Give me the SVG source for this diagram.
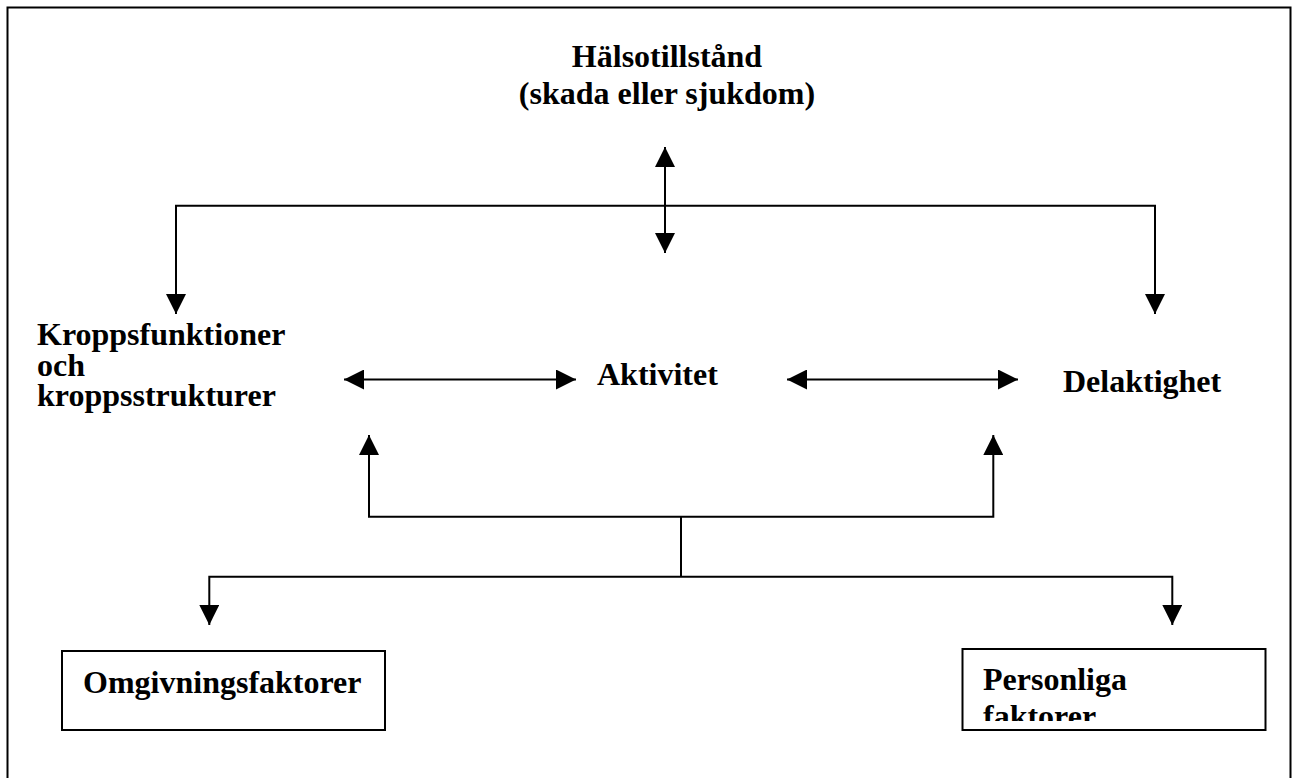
<svg xmlns="http://www.w3.org/2000/svg" width="1299" height="778" viewBox="0 0 1299 778">
<style>
.t{font-family:"Liberation Serif","Times New Roman",serif;font-weight:bold;font-size:32px;fill:#000}
.c{fill:none;stroke:#000;stroke-width:2}
.box{fill:#fff;stroke:#000;stroke-width:2}
</style>
<defs>
<marker id="ah" markerUnits="userSpaceOnUse" markerWidth="20" markerHeight="20" refX="20" refY="10" orient="auto-start-reverse" viewBox="0 0 20 20">
<path d="M0,0 L20,10 L0,20 z" fill="#000"/>
</marker>
<clipPath id="pclip"><rect x="963" y="650" width="302" height="71"/></clipPath>
</defs>
<rect x="7.5" y="7.5" width="1283" height="800" fill="#fff" stroke="#000" stroke-width="2"/>
<g id="connectors">
<path class="c" d="M665,147 V253" marker-start="url(#ah)" marker-end="url(#ah)"/>
<path class="c" d="M176,314 V205.7 H1155 V314" marker-start="url(#ah)" marker-end="url(#ah)"/>
<path class="c" d="M344,379.5 H576" marker-start="url(#ah)" marker-end="url(#ah)"/>
<path class="c" d="M787,379.5 H1018" marker-start="url(#ah)" marker-end="url(#ah)"/>
<path class="c" d="M369,435 V516.7 H993.3 V435" marker-start="url(#ah)" marker-end="url(#ah)"/>
<path class="c" d="M681,516.7 V576.7"/>
<path class="c" d="M209.3,625 V576.7 H1172.3 V625" marker-start="url(#ah)" marker-end="url(#ah)"/>
</g>
<g id="halsotillstand">
<text class="t" x="667" y="67" text-anchor="middle">Hälsotillstånd</text>
<text class="t" x="667" y="103.5" text-anchor="middle">(skada eller sjukdom)</text>
</g>
<g id="kroppsfunktioner">
<text class="t" x="37" y="345">Kroppsfunktioner</text>
<text class="t" x="37" y="376">och</text>
<text class="t" x="37" y="406">kroppsstrukturer</text>
</g>
<g id="aktivitet">
<text class="t" x="597" y="385">Aktivitet</text>
</g>
<g id="delaktighet">
<text class="t" x="1063" y="392">Delaktighet</text>
</g>
<g id="omgivningsfaktorer">
<rect class="box" x="62" y="651" width="323" height="79"/>
<text class="t" x="83" y="693">Omgivningsfaktorer</text>
</g>
<g id="personliga">
<rect class="box" x="962.5" y="649" width="303" height="81"/>
<g clip-path="url(#pclip)">
<text class="t" x="983" y="690">Personliga</text>
<text class="t" x="983" y="727">faktorer</text>
</g>
</g>
</svg>
